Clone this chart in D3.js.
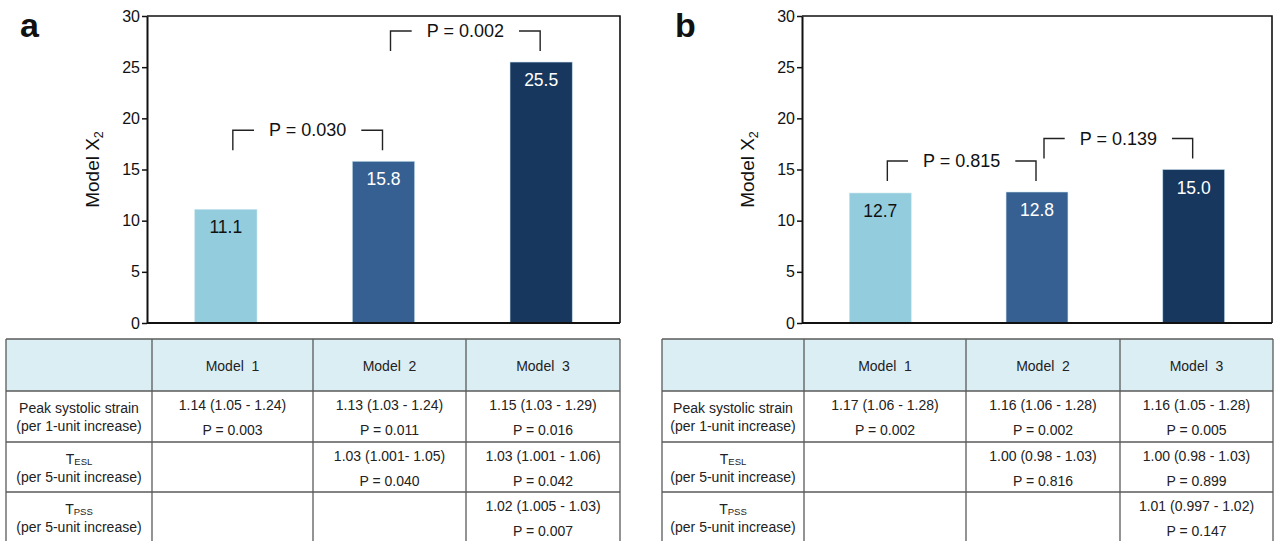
<!DOCTYPE html>
<html>
<head>
<meta charset="utf-8">
<script src="https://cdn.jsdelivr.net/npm/d3@7/dist/d3.min.js"></script>
<style>
  html, body { margin: 0; padding: 0; background: #fff; }
  svg { display: block; font-family: "Liberation Sans", Arial, sans-serif; }
</style>
</head>
<body>
<svg id="fig" width="1280" height="541"></svg>
<script>
// ---- data ----
const models = ["Model 1", "Model 2", "Model 3"];
const chiA = [11.1, 15.8, 25.5];
const chiB = [12.7, 12.8, 15.0];
const yTicks = [0, 5, 10, 15, 20, 25, 30];

// comparisons between adjacent models: [from index, to index, label]
const compareA = [[0, 1, "P = 0.030"], [1, 2, "P = 0.002"]];
const compareB = [[0, 1, "P = 0.815"], [1, 2, "P = 0.139"]];

// table rows: main name, subscript, unit line
const rowNames = ["Peak systolic strain", "T", "T"];
const rowSubs = ["", "ESL", "PSS"];
const rowUnits = ["(per 1-unit increase)", "(per 5-unit increase)", "(per 5-unit increase)"];

const orA = [
  ["1.14 (1.05 - 1.24)", "1.13 (1.03 - 1.24)", "1.15 (1.03 - 1.29)"],
  ["", "1.03 (1.001- 1.05)", "1.03 (1.001 - 1.06)"],
  ["", "", "1.02 (1.005 - 1.03)"]
];
const pA = [
  ["P = 0.003", "P = 0.011", "P = 0.016"],
  ["", "P = 0.040", "P = 0.042"],
  ["", "", "P = 0.007"]
];
const orB = [
  ["1.17 (1.06 - 1.28)", "1.16 (1.06 - 1.28)", "1.16 (1.05 - 1.28)"],
  ["", "1.00 (0.98 - 1.03)", "1.00 (0.98 - 1.03)"],
  ["", "", "1.01 (0.997 - 1.02)"]
];
const pB = [
  ["P = 0.002", "P = 0.002", "P = 0.005"],
  ["", "P = 0.816", "P = 0.899"],
  ["", "", "P = 0.147"]
];

// ---- styling ----
const barColors = ["#93CDDD", "#376092", "#17375E"];
const labelColors = ["#111", "#fff", "#fff"];
const headerFill = "#DBEEF4";
const gridStroke = "#5a5a5a";
const tableFont = 14;

const svg = d3.select("#fig");

const panels = [
  { letter: "a", letterX: 20, labelX: 99, plot: [147, 620], values: chiA, compare: compareA,
    cols: [6, 152, 313, 466, 620], or: orA, p: pA },
  { letter: "b", letterX: 675, labelX: 754, plot: [802, 1272], values: chiB, compare: compareB,
    cols: [662, 804, 966, 1120, 1273], or: orB, p: pB }
];

const plotTop = 16, plotBottom = 323;
const rowEdges = [339, 391, 442, 492, 543];

panels.forEach(P => {
  const g = svg.append("g");
  const y = d3.scaleLinear().domain([0, 30]).range([plotBottom, plotTop]);
  const x = d3.scaleBand().domain(models).range(P.plot).paddingInner(0.605).paddingOuter(0.3025);

  // panel letter
  g.append("text").attr("x", P.letterX).attr("y", 37)
    .attr("font-size", 34).attr("font-weight", "bold").attr("fill", "#111")
    .text(P.letter);

  // frame (top and right)
  g.append("path")
    .attr("d", `M${P.plot[0]},${plotTop}H${P.plot[1]}V${plotBottom}`)
    .attr("fill", "none").attr("stroke", "#111").attr("stroke-width", 1.6);

  // bars
  g.selectAll("rect.bar").data(P.values).join("rect")
    .attr("class", "bar")
    .attr("x", (d, i) => x(models[i]))
    .attr("width", x.bandwidth())
    .attr("y", d => y(d))
    .attr("height", d => y(0) - y(d))
    .attr("fill", (d, i) => barColors[i])
    .attr("stroke", "#c9e4ee").attr("stroke-width", 0.8).attr("stroke-opacity", 0.7);

  // value labels inside bars
  g.selectAll("text.val").data(P.values).join("text")
    .attr("class", "val")
    .attr("x", (d, i) => x(models[i]) + x.bandwidth() / 2)
    .attr("y", d => y(d) + 24)
    .attr("text-anchor", "middle")
    .attr("font-size", 17.5)
    .attr("fill", (d, i) => labelColors[i])
    .text(d => d.toFixed(1));

  // y axis
  const axis = g.append("g").attr("transform", `translate(${P.plot[0]},0)`)
    .call(d3.axisLeft(y).tickValues(yTicks).tickSize(5).tickSizeOuter(0).tickPadding(2));
  axis.select(".domain").attr("stroke", "#111").attr("stroke-width", 2);
  axis.selectAll(".tick line").attr("stroke", "#111").attr("stroke-width", 1.5);
  axis.selectAll(".tick text").attr("font-size", 16).attr("fill", "#111")
    .attr("font-family", "'Liberation Sans', Arial, sans-serif");

  // baseline
  g.append("line").attr("x1", P.plot[0]).attr("x2", P.plot[1])
    .attr("y1", y(0)).attr("y2", y(0))
    .attr("stroke", "#111").attr("stroke-width", 2);

  // y axis title
  const yl = g.append("text")
    .attr("transform", `translate(${P.labelX},${(plotTop + plotBottom) / 2}) rotate(-90)`)
    .attr("text-anchor", "middle").attr("font-size", 19).attr("fill", "#111");
  yl.append("tspan").text("Model X");
  yl.append("tspan").attr("font-size", 12.5).attr("dy", 4).text("2");

  // comparison brackets
  P.compare.forEach(([a, b, label]) => {
    const top = Math.max(P.values[a], P.values[b]);
    const yTop = y(top) - 31, yLeg = y(top) - 11;
    const xa = x(models[a]) + x.bandwidth() / 2 + 7;
    const xb = x(models[b]) + x.bandwidth() / 2 - 1;
    const xm = (xa + xb) / 2;
    const t = g.append("text").attr("x", xm).attr("y", yTop)
      .attr("text-anchor", "middle").attr("dominant-baseline", "central")
      .attr("font-size", 18).attr("fill", "#111").text(label);
    const w = t.node().getComputedTextLength();
    const gap = 15;
    g.append("path")
      .attr("d", `M${xa},${yLeg}V${yTop}H${xm - w / 2 - gap}M${xm + w / 2 + gap},${yTop}H${xb}V${yLeg}`)
      .attr("fill", "none").attr("stroke", "#222").attr("stroke-width", 1.4);
  });

  // ---- table ----
  const tg = g.append("g");
  const c = P.cols;
  // header fill
  tg.append("rect").attr("x", c[0]).attr("y", rowEdges[0])
    .attr("width", c[4] - c[0]).attr("height", rowEdges[1] - rowEdges[0])
    .attr("fill", headerFill);
  // grid
  rowEdges.forEach(r => tg.append("line").attr("x1", c[0]).attr("x2", c[4])
    .attr("y1", r).attr("y2", r).attr("stroke", gridStroke).attr("stroke-width", 1.3));
  c.forEach(cx => tg.append("line").attr("x1", cx).attr("x2", cx)
    .attr("y1", rowEdges[0]).attr("y2", rowEdges[4]).attr("stroke", gridStroke).attr("stroke-width", 1.3));

  const mid = i => (c[i] + c[i + 1]) / 2;
  // header labels
  models.forEach((m, i) => tg.append("text")
    .attr("x", mid(i + 1)).attr("y", 366).attr("dominant-baseline", "central")
    .attr("text-anchor", "middle").attr("font-size", tableFont).attr("fill", "#222")
    .text(m.replace(" ", "\u00a0 ")));

  // row labels (body rows start below the header row)
  rowNames.forEach((name, r) => {
    const top = rowEdges[r + 1];
    const t = tg.append("text").attr("x", mid(0)).attr("y", top + 22)
      .attr("text-anchor", "middle").attr("font-size", tableFont).attr("fill", "#222");
    t.append("tspan").text(name);
    if (rowSubs[r]) t.append("tspan").attr("font-size", 9.5).attr("dy", 1).text(rowSubs[r]);
    tg.append("text").attr("x", mid(0)).attr("y", top + 40)
      .attr("text-anchor", "middle").attr("font-size", tableFont).attr("fill", "#222")
      .text(rowUnits[r]);
  });

  // cells: odds ratio line and P value line
  P.or.forEach((row, r) => row.forEach((txt, k) => {
    if (!txt) return;
    const top = rowEdges[r + 1];
    tg.append("text").attr("x", mid(k + 1)).attr("y", top + 19)
      .attr("text-anchor", "middle").attr("font-size", tableFont).attr("fill", "#222").text(txt);
    tg.append("text").attr("x", mid(k + 1)).attr("y", top + 44)
      .attr("text-anchor", "middle").attr("font-size", tableFont).attr("fill", "#222").text(P.p[r][k]);
  }));
});
</script>
</body>
</html>
